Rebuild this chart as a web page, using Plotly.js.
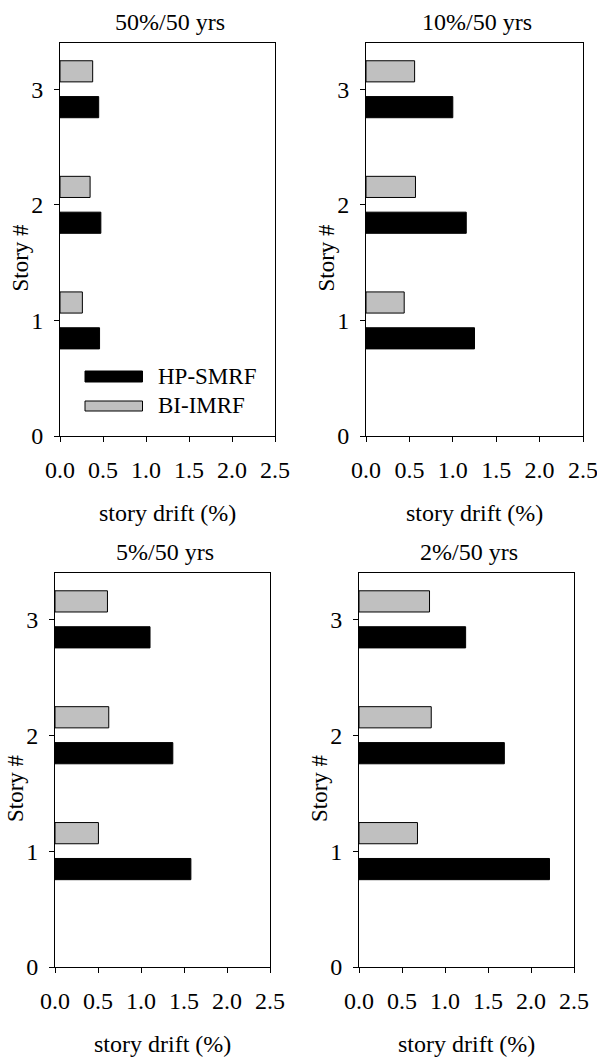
<!DOCTYPE html>
<html>
<head>
<meta charset="utf-8">
<script src="https://cdn.plot.ly/plotly-3.0.1.min.js"></script>
<style>
html,body{margin:0;padding:0;background:#fff;}
#chart{width:597px;height:1057px;}
</style>
</head>
<body>
<div id="chart"></div>
<script>
// ---- data ----
const stories = [1, 2, 3];
const panelTitles = ["50%/50 yrs", "10%/50 yrs", "5%/50 yrs", "2%/50 yrs"];
const seriesNames = ["HP-SMRF", "BI-IMRF"];
const hpSMRF_50in50 = [0.46, 0.475, 0.45];
const biIMRF_50in50 = [0.26, 0.35, 0.38];
const hpSMRF_10in50 = [1.25, 1.155, 1.00];
const biIMRF_10in50 = [0.44, 0.57, 0.56];
const hpSMRF_5in50 = [1.58, 1.37, 1.105];
const biIMRF_5in50 = [0.505, 0.625, 0.61];
const hpSMRF_2in50 = [2.215, 1.69, 1.24];
const biIMRF_2in50 = [0.68, 0.84, 0.82];
const xTickVals = [0, 0.5, 1.0, 1.5, 2.0, 2.5];
const xTickText = ["0.0", "0.5", "1.0", "1.5", "2.0", "2.5"];
const yTickVals = [0, 1, 2, 3];
const xAxisLabel = "story drift (%)";
const yAxisLabel = "Story #";

// ---- layout helpers ----
const W = 597, H = 1057;
const px = v => v / W;
const py = v => 1 - v / H;
const FONT = "Liberation Serif, Times New Roman, serif";

// plot boxes in pixels [left, right, top, bottom]
const boxes = [
  [60, 275, 43, 436],
  [366, 583, 43, 436],
  [55, 270, 573, 967],
  [359, 574, 573, 967]
];
const hpData = [hpSMRF_50in50, hpSMRF_10in50, hpSMRF_5in50, hpSMRF_2in50];
const biData = [biIMRF_50in50, biIMRF_10in50, biIMRF_5in50, biIMRF_2in50];

const traces = [];
const layout = {
  width: W, height: H,
  margin: {l: 0, r: 0, t: 0, b: 0},
  paper_bgcolor: "#fff", plot_bgcolor: "#fff",
  showlegend: false,
  barmode: "group",
  bargap: 0.38,
  bargroupgap: 0.41,
  font: {family: FONT, size: 24, color: "#000"},
  annotations: [],
  shapes: []
};

boxes.forEach((b, i) => {
  const n = i === 0 ? "" : String(i + 1);
  const xa = "x" + n, ya = "y" + n;
  traces.push({
    type: "bar", orientation: "h", name: seriesNames[0],
    y: stories, x: hpData[i], xaxis: xa, yaxis: ya,
    marker: {color: "#000000", line: {color: "#000000", width: 1}},
    hoverinfo: "x+y+name"
  });
  traces.push({
    type: "bar", orientation: "h", name: seriesNames[1],
    y: stories, x: biData[i], xaxis: xa, yaxis: ya,
    marker: {color: "#c0c0c0", line: {color: "#000000", width: 1}},
    hoverinfo: "x+y+name"
  });
  const common = {
    showline: true, linecolor: "#000", linewidth: 1, mirror: true,
    ticks: "outside", ticklen: 5, tickwidth: 1, tickcolor: "#000",
    showgrid: false, zeroline: false, fixedrange: true,
    ticklabeloverflow: "allow",
    tickfont: {family: FONT, size: 24, color: "#000"}
  };
  layout["xaxis" + n] = Object.assign({}, common, {
    domain: [px(b[0]), px(b[1])], anchor: ya,
    range: [0, 2.5], tickvals: xTickVals, ticktext: xTickText,
    ticklabelstandoff: 7
  });
  layout["yaxis" + n] = Object.assign({}, common, {
    domain: [py(b[3]), py(b[2])], anchor: xa,
    range: [0, 3.4], tickvals: yTickVals, ticktext: yTickVals.map(String),
    ticklabelstandoff: 6
  });
  const cx = (b[0] + b[1]) / 2;
  // panel title
  layout.annotations.push({
    text: panelTitles[i], xref: "paper", yref: "paper",
    x: px(cx + 2), y: py(b[2] - 21), xanchor: "center", yanchor: "middle",
    showarrow: false, font: {family: FONT, size: 24, color: "#000"}
  });
  // x-axis title
  layout.annotations.push({
    text: xAxisLabel, xref: "paper", yref: "paper",
    x: px(cx), y: py(b[3] + 77), xanchor: "center", yanchor: "middle",
    showarrow: false, font: {family: FONT, size: 24, color: "#000"}
  });
  // y-axis title
  layout.annotations.push({
    text: yAxisLabel, xref: "paper", yref: "paper",
    x: px(b[0] - 40), y: py((b[2] + b[3]) / 2 + 18), xanchor: "center", yanchor: "middle",
    textangle: -90,
    showarrow: false, font: {family: FONT, size: 23, color: "#000"}
  });
});

// legend (drawn in panel 1)
const legendRows = [
  {name: seriesNames[0], fill: "#000000", top: 371, bottom: 382},
  {name: seriesNames[1], fill: "#c0c0c0", top: 401, bottom: 411}
];
legendRows.forEach(r => {
  layout.shapes.push({
    type: "rect", xref: "paper", yref: "paper",
    x0: px(85), x1: px(142.5), y0: py(r.bottom), y1: py(r.top),
    fillcolor: r.fill, line: {color: "#000", width: 1}
  });
  layout.annotations.push({
    text: r.name, xref: "paper", yref: "paper",
    x: px(156), y: py((r.top + r.bottom) / 2), xanchor: "left", yanchor: "middle",
    showarrow: false, font: {family: FONT, size: 23, color: "#000"}
  });
});

Plotly.newPlot("chart", traces, layout, {displayModeBar: false, staticPlot: true});
</script>
</body>
</html>
